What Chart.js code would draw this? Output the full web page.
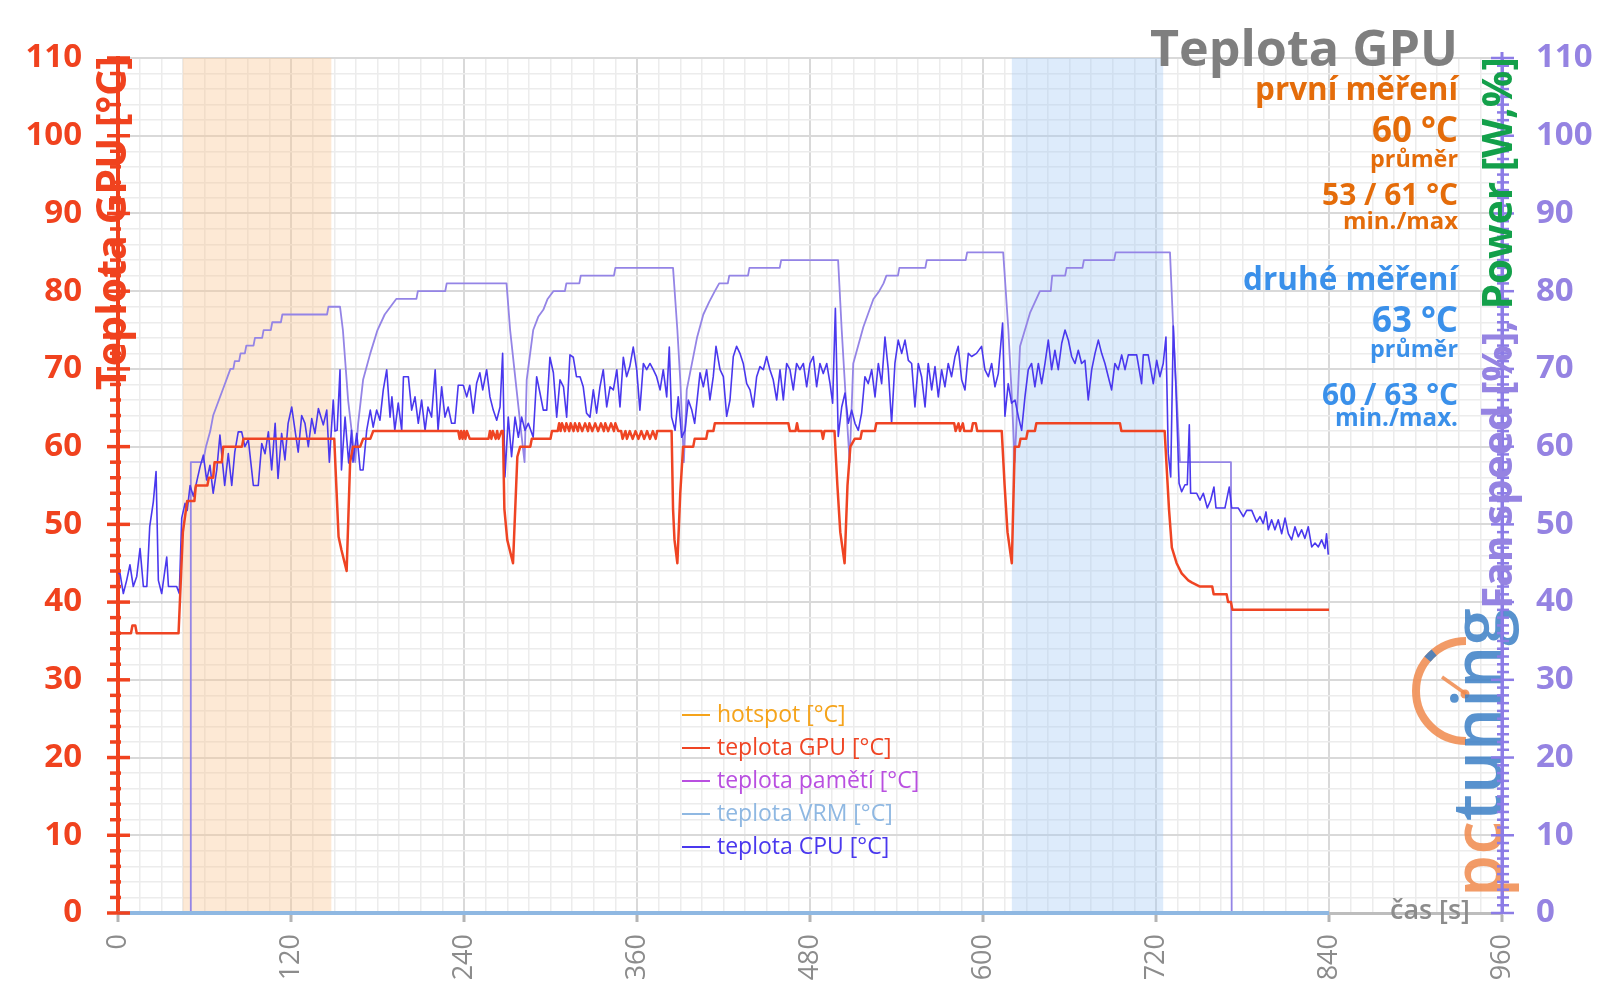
<!DOCTYPE html>
<html><head><meta charset="utf-8">
<script src="https://cdn.jsdelivr.net/npm/chart.js@4/dist/chart.umd.min.js"></script>
<style>html,body{margin:0;padding:0;background:#fff;overflow:hidden}canvas{display:block}</style>
</head><body>
<canvas id="c" width="1600" height="1008"></canvas>
<script>
// ---------- data ----------
const timeTicks = [0,120,240,360,480,600,720,840,960];
const tempTicks = [0,10,20,30,40,50,60,70,80,90,100,110];
const fanTicks  = [0,10,20,30,40,50,60,70,80,90,100,110];
const seriesNames = ['hotspot [°C]','teplota GPU [°C]','teplota pamětí [°C]','teplota VRM [°C]','teplota CPU [°C]'];
const fanName = 'Fan speed [%]';
const bandRanges = [[45,148],[620,725]];

const hotspotTemp = [];
const memTemp = [];
const vrmTemp = [[0,0],[840,0]];

const gpuTemp = [[0,36],[9,36],[10,37],[12,37],[13,36],[42,36],[45,49],[48,53],[53,53],[54,55],[62,55],[63,56],[66,56],[67,58],[72,58],[73,60],[86,60],[87,61],[150,61],[153,48.4],[155,46.7],[158.6,44],[161,58],[163,60],[168,60],[170,61],[175,61],[177,62],
[236,62],[237,61],[238,62],[239,61],[240,62],[241,61],[242,62],[244,61],[257,61],[258,62],[259,61],[260,62],[262,61],[263,62],[264,61],[266,62],[267,62],[268,52],[270,48],[274,45],[277,58.7],[279,60],[286,60],[287,61],[300,61],[301,62],
[305,62],[306,63],[307,62],[308,63],[310,62],[311,63],[313,62],[314,63],[316,62],[317,63],[319,62],[320,63],[322,62],[324,63],[326,62],[327,63],[329,62],[331,63],[333,62],[335,63],[337,62],[338,63],[340,62],[342,63],[344,62],[345,63],[347,62],[349,62],[350,61],[352,62],[353,61],[355,62],[357,61],[359,62],[361,61],[363,62],[365,61],[367,62],[369,61],[371,62],[373,61],[374,62],[384,62],[385,52],[386,48],[388,45],[390,54],[392,60],[399,60],[400,61],[408,61],[409,62],[413,62],[414,63],
[465,63],[466,62],[470,62],[471,63],[472,62],[488,62],[489,61],[490,62],[497,62],[499,55],[501,49],[504,45],[506,55],[508,60],[511,61],[515,61],[516,62],[525,62],[526,63],[580,63],[581,62],[583,63],[584,62],[586,63],[587,62],[592,62],[593,63],[595,63],[596,62],[613,62],[615,55],[617,49],[620,45],[622,60],[625,60],[626,61],[630,61],[631,62],[636,62],[637,63],[695,63],[696,62],[726,62],[729,52],[731,47],[734.3,45],[737.8,43.7],[742.4,42.8],[745,42.5],[750.5,42],[759,42],[760,41],[769,41],[770,40],[772,40],[773,39],[840,39]];

const cpuTemp = [[0,43.7],[1.4,43.7],[3.7,41.1],[6,42.8],[8.3,44.8],[10.6,42],[13,43.3],[15.3,46.9],[17.6,42],[20,42],[22,49.7],[24.5,52.9],[26.4,56.8],[28,42.8],[30.3,41.1],[33.8,45.8],[35,42],[40.7,42],[42.5,41.1],[44.2,50.8],[46.5,52.7],[48,51.8],[50,55],[52.3,53.6],[54.6,55.5],[56.9,57.4],[59.2,58.9],[61.5,55.7],[63.8,57.6],[66,54],[68.5,57],[70.7,61.5],[74,55],[76.5,59.1],[78.9,55],[81,59.3],[83.4,61.9],[85.8,61.9],[88,60],[90.4,60.9],[93.9,55],[97.3,55],[99.7,60.4],[102,59.1],[104.3,61.9],[106.6,57],[109,63],[111,55.9],[113.5,61.7],[115.8,58.3],[118,63],[120.5,65.1],[122.8,62.1],[125,59.3],[127.4,64],[129.7,63],[132,60],[134.4,63.6],[136.6,61.7],[139,64.9],[142.4,62.8],[144.8,64.7],[146.6,58],[149.3,66],[150.5,62],[152,62.1],[154,69.9],[155,57],[157.5,63.8],[160,57.9],[162,62.1],[163,58],[165.6,61.7],[168,57],[170,57],[172.5,62.1],[175,64.7],[177,62.5],[179.4,64.7],[181.7,63.4],[184,67.3],[186.4,69.9],[188.7,63.8],[190,66.4],[192,62.1],[194.4,65.6],[196.8,62.1],[198,69],[201.4,69],[203.7,64.7],[206,66.4],[208.3,63],[210.6,66],[213,62.1],[215,65.1],[217.5,63.8],[220,69.9],[222,62.1],[224.5,67.7],[226.8,63.8],[229,65.1],[231.4,63],[233.7,63],[236,67.9],[239.5,67.9],[241.9,66.4],[244,67.9],[246.4,64.3],[248.8,68.2],[251,69.5],[253,67.3],[255.7,69.9],[258,66.4],[260.3,64.7],[262.7,63.4],[265,65.1],[266.8,72],[268.4,56.1],[270.7,63.8],[273,58.7],[275.4,63.8],[277.7,61.2],[280,63.8],[282.3,62.1],[284.6,63],[288,61.2],[290.4,69],[292.7,66.9],[295,64.7],[297.4,64.7],[299.6,71.5],[302,69.5],[304.3,63.8],[306.6,68.6],[309,67.7],[311.2,63.8],[313.5,71.8],[315.8,71.5],[318,69],[320.5,69],[322.7,67.7],[325,64.3],[327.4,63.8],[329.7,67.3],[332,64.3],[334.3,67.7],[336.6,69.9],[339,65.1],[341.3,67.7],[343.6,67.3],[346,69.9],[348.2,65.1],[350.5,71.5],[352.8,69],[355,70.3],[357.4,72.8],[359.8,69.9],[362,64.7],[364.4,70.7],[366.7,69.9],[369,70.7],[371.3,69.9],[373.6,69],[376,67.3],[378.2,69.9],[380.6,66.4],[382.4,72.8],[384,63.8],[386.4,62.1],[388.6,66.4],[391,61.2],[393.3,62.1],[395.6,66],[398,64.7],[400,63],[403.7,69.5],[406,67.7],[408.3,69.9],[410.6,66],[412.9,69],[414.8,72.9],[417.6,69.9],[419.9,69],[422.2,63.9],[424.5,66],[426.8,71.6],[429.1,72.9],[431.4,72],[433.7,70.7],[436.1,68.1],[438.4,67.3],[440.7,65.1],[443,69],[445.3,70.3],[447.6,69.9],[449.9,71.6],[452.2,69.9],[454.5,68.6],[456.9,66],[459.2,69.9],[461.5,66],[463.8,70.7],[466.1,69.9],[468.4,67.3],[470.7,70.7],[473,69.9],[475.4,70.7],[477.7,67.7],[480,70.7],[482.3,71.6],[484.6,67.7],[486.9,70.7],[489.2,69.4],[491.6,70.7],[493.9,68.1],[495.7,65.6],[497.6,77.8],[499.6,61.3],[502,65.1],[504.3,66.9],[506.6,63],[508.9,64.7],[511.2,63],[513.5,62.1],[515.8,64.3],[518.1,69],[520.4,68.1],[522.8,69.9],[525.1,66.4],[527.4,70.7],[529.7,68.1],[532,74.1],[534.3,69.9],[536.6,63],[538.9,70.7],[541.2,73.7],[543.6,72],[545.9,73.7],[548.2,71.1],[550.5,70.7],[552.8,65.1],[555.1,70.7],[557.4,69],[559.8,65.1],[562,70.7],[564.4,67.3],[566.7,70.3],[569,66.4],[571.3,69.9],[573.6,67.7],[575.9,70.7],[578.2,69],[580.6,71.6],[582.8,72.9],[585.2,68.6],[587.5,67.3],[589.8,72],[592.1,71.6],[595.5,72],[599,72.9],[601.3,69.9],[603.7,69],[606,70.7],[608.3,67.7],[610.6,69.4],[613.6,75.9],[615.2,63.9],[617.5,68.1],[619.8,65.6],[622.2,66],[624.5,63.9],[626.8,62.1],[629.1,66.4],[631.4,69.9],[633.7,70.7],[636,67.7],[638.4,70.7],[640.7,68.1],[643,70.7],[645.3,73.7],[647.6,69.9],[649.9,72.4],[652.2,69.9],[654.6,73.3],[656.9,75],[659.2,73.7],[661.5,71.6],[663.8,70.7],[666.1,72.4],[668.4,70.7],[670.7,71.1],[673,66],[675.4,69.9],[677.7,72],[680,73.7],[682.3,72],[684.6,70.7],[686.9,69],[689.2,67.3],[691.5,70.7],[693.8,69.9],[696.2,71.8],[698.5,69.9],[700.8,71.8],[703.1,71.8],[706.6,71.8],[710,68.1],[711.2,71.8],[714.6,71.8],[718.1,68.1],[720.5,71.1],[722.7,69],[725,70.7],[726.9,74.1],[728.5,59.1],[730.2,56.1],[732,75.5],[733.8,67.7],[736,55.3],[737.8,54.2],[740.1,55.1],[741.7,55.1],[743.1,62.8],[744,54],[748.2,54],[750.5,53.1],[752.8,54],[755.6,52.1],[757.9,53.1],[760.2,54.8],[761.6,52.1],[767.8,52.1],[770.8,54.8],[772.5,52.1],[777.1,52.1],[780.6,51],[782.9,51.8],[786.4,51.8],[789.8,50.3],[792.1,51],[794.4,50.1],[796.3,51.6],[797.9,49.3],[800.2,50.6],[802.5,49.3],[804.8,50.6],[807.2,48.8],[809.5,50.8],[811.8,48.8],[814.1,48],[816.4,49.7],[818.7,48.4],[821,49.3],[823.3,48.2],[825.6,49.7],[828,47.1],[830.3,47.6],[832.6,47.1],[834.9,48],[837.2,46.9],[838.3,48.8],[839.5,46.1]];

const fanSpeed = [[0,0],[50,0],[50.5,58],[59,58],[61,60],[64,62],[66,64],[68,65],[70,66],[72,67],[74,68],[76,69],[78,70],[80,70],[81,71],[84,71],[85,72],[88,72],[89,73],[94,73],[95,74],[100,74],[101,75],[106,75],[107,76],[113,76],[114,77],[145,77],[146,78],[154,78],[156,75],[159.6,66],[163,60.5],[164.5,58],[166.6,63],[170,68.6],[175,72],[180,75],[185,77],[189,78],[193,79],[207,79],[208,80],[227,80],[228,81],[269.5,81],[272,75],[277,66.4],[280,61.3],[282,58],[283.5,68.6],[288,75],[291.5,76.7],[295,77.6],[298,79],[302,80],[310,80],[311,81],[320,81],[321,82],[344,82],[345,83],[385,83],[388,75],[390,68.6],[392.5,58],[394.5,67.3],[401.6,74],[406,77],[410,78.6],[414,80],[417,81],[423,81],[424,82],[437,82],[438,83],[459,83],[460,84],[499.5,84],[502,75],[505.4,64.3],[507.5,58],[510,70.7],[517,75.4],[524,79],[528,80],[531,81],[533,82],[541,82],[542,83],[560,83],[561,84],[588,84],[589,85],[614,85],[617.6,75],[620,66.4],[622,58],[625.7,72.9],[632.6,77.2],[639.5,80],[647,80],[648,82],[657,82],[658,83],[669,83],[670,84],[691,84],[692,85],[729.7,85],[732,75],[736.6,58],[772,58],[772.5,0],[840,0]];

const titleText = 'Teplota GPU';
const firstRun = ['první měření','60 °C','průměr','53 / 61 °C','min./max'];
const secondRun = ['druhé měření','63 °C','průměr','60 / 63 °C','min./max.'];
const leftAxisTitle = 'Teplota GPU [°C]';
const rightAxisTitleParts = ['Fan speed [%], ','Power [W,%]'];
const xAxisTitle = 'čas [s]';
const logoParts = ['pc','tuning'];

// ---------- styling ----------
const FONT = "'Open Sans','Noto Sans','DejaVu Sans',sans-serif";
const COL = {gpu:'#ef4423', cpu:'#4a38ee', fan:'#9484e6', vrm:'#8fb8e2', hot:'#f5a31a', mem:'#b94fe0',
  left:'#f0421e', right:'#9583e2', green:'#13a04a', grayText:'#8c8c8c', orange:'#e46c0a', blue:'#3a90ea'};
const pts = a => a.map(([x,y]) => ({x, y}));

function fitSize(ctx, text, width, weight) {
  ctx.font = `${weight} 100px ${FONT}`;
  return 100 * width / ctx.measureText(text).width;
}

const overlay = {
  id: 'overlay',
  beforeDatasetsDraw(chart) {
    const {ctx, chartArea: a, scales: {x}} = chart;
    const fills = ['rgba(250,200,150,0.40)', 'rgba(160,200,245,0.36)'];
    ctx.save();
    bandRanges.forEach((b, i) => {
      const x0 = x.getPixelForValue(b[0]), x1 = x.getPixelForValue(b[1]);
      ctx.fillStyle = fills[i];
      ctx.fillRect(x0, a.top, x1 - x0, a.bottom - a.top);
    });
    ctx.restore();
  },
  afterDraw(chart) {
    const {ctx, chartArea: a, scales: {x, y, y1}} = chart;
    ctx.save();
    // logo
    ctx.globalAlpha = 0.85;
    ctx.lineWidth = 8; ctx.strokeStyle = '#f08a4c';
    ctx.beginPath(); ctx.arc(1466, 691, 50, Math.PI * 0.5, Math.PI * 1.5); ctx.stroke();
    ctx.strokeStyle = '#3b7fc6';
    ctx.beginPath(); ctx.arc(1466, 691, 50, Math.PI * 1.22, Math.PI * 1.28); ctx.stroke();
    ctx.strokeStyle = '#f08a4c'; ctx.lineWidth = 3.5;
    ctx.beginPath(); ctx.moveTo(1466, 694); ctx.lineTo(1442, 677); ctx.stroke();
    ctx.fillStyle = '#f08a4c'; ctx.beginPath(); ctx.arc(1465, 694, 4.5, 0, Math.PI * 2); ctx.fill();
    const ls = fitSize(ctx, logoParts.join(''), 289, '600');
    ctx.save();
    ctx.translate(1502, 897); ctx.rotate(-Math.PI / 2);
    ctx.font = `600 ${ls}px ${FONT}`; ctx.textBaseline = 'alphabetic'; ctx.textAlign = 'left';
    ctx.fillStyle = '#f08a4c'; ctx.fillText(logoParts[0], 0, 0);
    const w0 = ctx.measureText(logoParts[0]).width;
    ctx.fillStyle = '#3b7fc6'; ctx.fillText(logoParts[1], w0, 0);
    ctx.restore();
    ctx.globalAlpha = 1;

    // axis tick marks
    ctx.strokeStyle = COL.left; ctx.lineWidth = 3.5;
    for (let v = 0; v <= 110; v += 2) {
      const py = y.getPixelForValue(v);
      const major = tempTicks.includes(v);
      ctx.beginPath(); ctx.moveTo(major ? 107 : 110, py); ctx.lineTo(major ? 130 : 121, py); ctx.stroke();
    }
    ctx.strokeStyle = '#8c7ce6'; ctx.lineWidth = 3;
    ctx.beginPath(); ctx.moveTo(a.right, a.top - 6); ctx.lineTo(a.right, a.bottom); ctx.stroke();
    ctx.lineWidth = 2.5;
    for (let v = 0; v <= 110; v += 1) {
      const py = y1.getPixelForValue(v);
      const major = fanTicks.includes(v);
      ctx.beginPath(); ctx.moveTo(major ? a.right - 11 : a.right - 5, py); ctx.lineTo(major ? a.right + 12 : a.right + 7, py); ctx.stroke();
    }

    // legend
    const items = chart.data.datasets.filter(d => d.inLegend);
    ctx.font = `23px ${FONT}`; ctx.textBaseline = 'middle'; ctx.textAlign = 'left';
    items.forEach((d, i) => {
      const py = 715 + i * 33;
      ctx.strokeStyle = d.borderColor; ctx.lineWidth = 2;
      ctx.beginPath(); ctx.moveTo(682, py); ctx.lineTo(710, py); ctx.stroke();
      ctx.fillStyle = d.borderColor; ctx.fillText(d.label, 717, py);
    });

    // title and annotations
    ctx.textAlign = 'right'; ctx.textBaseline = 'alphabetic';
    const ts = fitSize(ctx, titleText, 308, 'bold');
    ctx.font = `bold ${ts}px ${FONT}`; ctx.fillStyle = '#7f7f7f';
    ctx.fillText(titleText, 1458, 66);
    const widths = [203, 86, 88, 136, 115];
    const base1 = [100, 142, 167, 205, 229];
    const base2 = [290, 332, 357, 405, 426];
    const widths2 = [215, 86, 88, 136, 123];
    firstRun.forEach((t, i) => {
      const s = fitSize(ctx, t, widths[i], 'bold');
      ctx.font = `bold ${s}px ${FONT}`; ctx.fillStyle = COL.orange; ctx.fillText(t, 1458, base1[i]);
    });
    secondRun.forEach((t, i) => {
      const s = fitSize(ctx, t, widths2[i], 'bold');
      ctx.font = `bold ${s}px ${FONT}`; ctx.fillStyle = COL.blue; ctx.fillText(t, 1458, base2[i]);
    });

    // x axis title
    const xs = fitSize(ctx, xAxisTitle, 80, '600');
    ctx.font = `600 ${xs}px ${FONT}`; ctx.fillStyle = COL.grayText; ctx.textAlign = 'left'; ctx.textBaseline = 'middle';
    ctx.fillText(xAxisTitle, 1390, 911);

    // left axis title
    const l = fitSize(ctx, leftAxisTitle, 334, 'bold');
    ctx.save();
    ctx.translate(126, 390); ctx.rotate(-Math.PI / 2);
    ctx.font = `bold ${l}px ${FONT}`; ctx.textAlign = 'left'; ctx.textBaseline = 'alphabetic';
    ctx.fillStyle = COL.left; ctx.fillText(leftAxisTitle, 0, 0);
    ctx.restore();

    // right axis title
    const r = fitSize(ctx, rightAxisTitleParts.join(''), 552, 'bold');
    ctx.save();
    ctx.translate(1512, 609); ctx.rotate(-Math.PI / 2);
    ctx.font = `bold ${r}px ${FONT}`; ctx.textAlign = 'left'; ctx.textBaseline = 'alphabetic';
    ctx.fillStyle = COL.right; ctx.fillText(rightAxisTitleParts[0], 0, 0);
    const rw = ctx.measureText(rightAxisTitleParts[0]).width;
    ctx.fillStyle = COL.green; ctx.fillText(rightAxisTitleParts[1], rw, 0);
    ctx.restore();

    ctx.restore();
  }
};

const isMajorX = c => c.tick && timeTicks.includes(c.tick.value);
const isMajorY = c => c.tick && tempTicks.includes(c.tick.value);

new Chart(document.getElementById('c'), {
  type: 'line',
  data: {
    datasets: [
      {label: seriesNames[0], data: pts(hotspotTemp), borderColor: COL.hot, borderWidth: 2, yAxisID: 'y', order: 5, inLegend: true},
      {label: seriesNames[1], data: pts(gpuTemp), borderColor: COL.gpu, borderWidth: 2.5, yAxisID: 'y', order: 1, inLegend: true},
      {label: seriesNames[2], data: pts(memTemp), borderColor: COL.mem, borderWidth: 2, yAxisID: 'y', order: 6, inLegend: true},
      {label: seriesNames[3], data: pts(vrmTemp), borderColor: COL.vrm, borderWidth: 4, yAxisID: 'y', order: 0, inLegend: true},
      {label: seriesNames[4], data: pts(cpuTemp), borderColor: COL.cpu, borderWidth: 1.6, yAxisID: 'y', order: 2, inLegend: true},
      {label: fanName, data: pts(fanSpeed), borderColor: COL.fan, borderWidth: 1.8, yAxisID: 'y1', order: 3, inLegend: false}
    ]
  },
  options: {
    responsive: false, animation: false, devicePixelRatio: 1,
    layout: {padding: {top: 58, left: 0, right: 0, bottom: 0}},
    plugins: {legend: {display: false}, tooltip: {enabled: false}, title: {display: false}},
    elements: {point: {radius: 0}, line: {tension: 0, borderJoinStyle: 'round', fill: false}},
    datasets: {line: {clip: false}},
    scales: {
      x: {
        type: 'linear', min: 0, max: 960, position: 'bottom',
        afterFit(s) { s.height = 95; },
        ticks: {stepSize: 15, autoSkip: false, maxTicksLimit: 100, minRotation: 90, maxRotation: 90, padding: 12,
          color: COL.grayText, font: {family: FONT, size: 27},
          callback: v => timeTicks.includes(v) ? String(v) : ''},
        grid: {color: c => isMajorX(c) ? '#d9d9d9' : '#ececec', lineWidth: c => isMajorX(c) ? 2 : 1.5,
          drawTicks: true, tickLength: 9, tickWidth: 3, tickColor: c => isMajorX(c) ? '#b4b4b4' : 'rgba(0,0,0,0)'},
        border: {color: '#bdbdbd', width: 3}
      },
      y: {
        type: 'linear', position: 'left', min: 0, max: 110,
        afterFit(s) { s.width = 118; },
        ticks: {stepSize: 2, autoSkip: false, maxTicksLimit: 100, padding: 36, color: COL.left,
          font: {family: FONT, size: 33, weight: 'bold'},
          callback: v => tempTicks.includes(v) ? String(v) : ''},
        grid: {color: c => isMajorY(c) ? '#d9d9d9' : '#ececec', lineWidth: c => isMajorY(c) ? 2 : 1.5, drawTicks: false},
        border: {color: COL.left, width: 4}
      },
      y1: {
        type: 'linear', position: 'right', min: 0, max: 110,
        afterFit(s) { s.width = 98; },
        ticks: {stepSize: 10, autoSkip: false, padding: 34, color: COL.right,
          font: {family: FONT, size: 33, weight: 'bold'},
          callback: v => fanTicks.includes(v) ? String(v) : ''},
        grid: {display: false, drawTicks: false},
        border: {color: '#8c7ce6', width: 3}
      }
    }
  },
  plugins: [overlay]
});
</script>
</body></html>
